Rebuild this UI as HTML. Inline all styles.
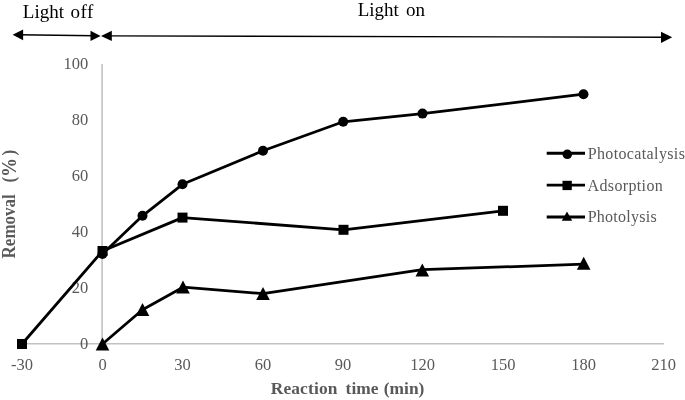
<!DOCTYPE html>
<html><head><meta charset="utf-8"><title>Removal chart</title>
<style>
html,body{margin:0;padding:0;background:#fff;}
svg{display:block;font-family:"Liberation Serif",serif;}
.tick{font-size:16.5px;fill:#595959;}
.leg{font-size:16px;fill:#595959;}
.ttl{font-size:17px;fill:#595959;font-weight:bold;}
.top{font-size:19px;fill:#000;}
.ln{fill:none;stroke:#000;stroke-width:2.8;stroke-linejoin:round;stroke-linecap:round;}
</style></head><body>
<svg width="685" height="400" viewBox="0 0 685 400">
<rect width="685" height="400" fill="#fff"/>
<!-- axes -->
<line x1="102.1" y1="64" x2="102.1" y2="344" stroke="#c1c1c1" stroke-width="1.6"/>
<line x1="21" y1="343.7" x2="664" y2="343.7" stroke="#c1c1c1" stroke-width="1.6"/>
<!-- top arrows -->
<text class="top" y="18.1"><tspan x="22.8">Light </tspan><tspan x="70.6" style="letter-spacing:0.4px">off</tspan></text>
<text class="top" y="16.2"><tspan x="357.7">Light </tspan><tspan x="406">on</tspan></text>
<line x1="18" y1="34.8" x2="95" y2="35.8" stroke="#000" stroke-width="1.4"/>
<polygon points="12.6,34.7 23.1,29.4 23.1,40.2" fill="#000"/>
<polygon points="100.6,35.9 90.5,30.7 90.5,41" fill="#000"/>
<line x1="106" y1="35.9" x2="666" y2="37.2" stroke="#000" stroke-width="1.4"/>
<polygon points="101,35.9 111.8,30.7 111.8,41" fill="#000"/>
<polygon points="672.2,37.2 661,31.7 661,42.9" fill="#000"/>
<!-- y ticks -->
<g class="tick" text-anchor="end">
<text x="88.3" y="69.4">100</text>
<text x="88.3" y="125.4">80</text>
<text x="88.3" y="181.4">60</text>
<text x="88.3" y="237.4">40</text>
<text x="88.3" y="293.4">20</text>
<text x="88.3" y="349.4">0</text>
</g>
<g class="tick" text-anchor="middle">
<text x="22" y="369.7">-30</text>
<text x="102.500" y="369.7">0</text>
<text x="182.500" y="369.7">30</text>
<text x="263" y="369.7">60</text>
<text x="343" y="369.7">90</text>
<text x="422.500" y="369.7">120</text>
<text x="503" y="369.7">150</text>
<text x="583.500" y="369.7">180</text>
<text x="663.500" y="369.7">210</text>
</g>
<text class="ttl" y="394" style="font-size:17.4px"><tspan x="270.7" style="letter-spacing:0.15px">Reaction </tspan><tspan x="345.6">time </tspan><tspan x="383.8">(min)</tspan></text>
<text class="ttl" transform="translate(14.9,258.4) scale(1.08,1) rotate(-90)"><tspan x="0">Removal </tspan><tspan x="75.8">(</tspan><tspan x="81.4" dy="0.9" style="font-size:19px">%</tspan><tspan x="102.9" dy="-0.9">)</tspan></text>
<!-- series -->
<polyline class="ln" points="102.500,254 142.500,215.800 182.500,184.300 263,150.800 343.200,121.800 422.500,113.600 583.500,94.200"/>
<polyline class="ln" points="22,344 102.500,251 182.500,217.600 343.500,229.800 503,210.800"/>
<polyline class="ln" points="102.500,344 142.500,309.700 183,287.200 263,293.600 422.300,269.700 583.700,264.200"/>
<g fill="#000">
<circle cx="102.500" cy="254" r="5"/>
<circle cx="142.500" cy="215.800" r="5"/>
<circle cx="182.500" cy="184.300" r="5"/>
<circle cx="263" cy="150.800" r="5"/>
<circle cx="343.200" cy="121.800" r="5"/>
<circle cx="422.500" cy="113.600" r="5"/>
<circle cx="583.500" cy="94.200" r="5"/>
<rect x="17" y="339" width="10" height="10"/>
<rect x="97.500" y="246" width="10" height="10"/>
<rect x="177.500" y="212.600" width="10" height="10"/>
<rect x="338.500" y="224.800" width="10" height="10"/>
<rect x="498" y="205.800" width="10" height="10"/>
<polygon points="102.5,337.4 109.3,350.4 95.7,350.4"/>
<polygon points="142.5,302.9 149.3,315.9 135.7,315.9"/>
<polygon points="183.0,280.4 189.8,293.4 176.2,293.4"/>
<polygon points="263.0,286.9 269.8,299.9 256.2,299.9"/>
<polygon points="422.3,263.4 429.1,276.4 415.5,276.4"/>
<polygon points="583.7,256.8 590.5,269.8 576.9,269.8"/>
</g>
<!-- legend -->
<g>
<line x1="546.7" y1="153.2" x2="585" y2="153.2" stroke="#000" stroke-width="2.9"/>
<circle cx="567.3" cy="154.3" r="4.8"/>
<text class="leg" x="587.7" y="159.4" textLength="97.2">Photocatalysis</text>
<line x1="546.7" y1="185.1" x2="585" y2="185.1" stroke="#000" stroke-width="2.9"/>
<rect x="562.5" y="180.8" width="9.3" height="9.3"/>
<text class="leg" x="587.5" y="190.6" textLength="75.3">Adsorption</text>
<line x1="546.7" y1="217" x2="585" y2="217" stroke="#000" stroke-width="2.9"/>
<polygon points="567,211.4 572.2,220.8 561.8,220.8"/>
<text class="leg" x="587.7" y="221.8" textLength="69">Photolysis</text>
</g>
</svg>
</body></html>
